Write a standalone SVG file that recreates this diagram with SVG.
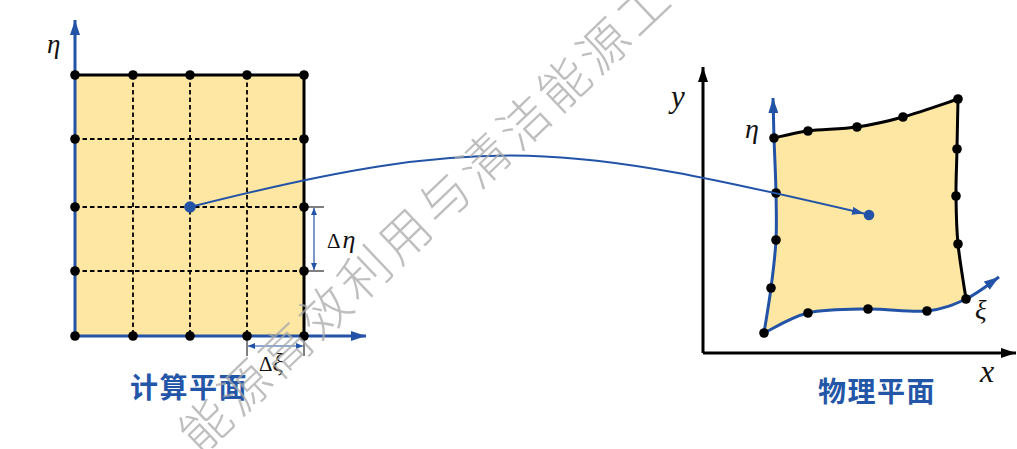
<svg xmlns="http://www.w3.org/2000/svg" width="1017" height="449" viewBox="0 0 1017 449">
<style>
.fill{fill:#FDE7A3;stroke:none}
.bk{stroke:#000;stroke-width:3;fill:none;stroke-linejoin:round}
.bl{stroke:#2253A6;stroke-width:3;fill:none}
.dash{stroke:#000;stroke-width:1.8;stroke-dasharray:4.5 3;fill:none}
.thin{stroke:#000;stroke-width:1;fill:none}
.dim{stroke:#2253A6;stroke-width:1.2;fill:none}
.dot{fill:#000}
.bdot{fill:#2253A6}
.it{font-family:"Liberation Serif",serif;font-style:italic;fill:#111}
.up{font-family:"Liberation Serif",serif;fill:#111}
.title{font-family:"Noto Sans CJK SC",sans-serif;font-weight:bold;font-size:28px;fill:#2456A8;letter-spacing:1.5px}
.wm{font-family:"Noto Sans CJK SC",sans-serif;font-weight:300;font-size:50px;fill:#a8a8a8;fill-opacity:0.75;letter-spacing:5px}
</style>
<defs>
<marker id="ab" markerUnits="userSpaceOnUse" markerWidth="15" markerHeight="10" refX="15" refY="5" orient="auto"><path d="M0,0 L15,5 L0,10 Z" fill="#2253A6"/></marker>
<marker id="ak" markerUnits="userSpaceOnUse" markerWidth="15" markerHeight="10" refX="15" refY="5" orient="auto"><path d="M0,0 L15,5 L0,10 Z" fill="#000"/></marker>
<marker id="ac" markerUnits="userSpaceOnUse" markerWidth="12" markerHeight="8" refX="12" refY="4" orient="auto"><path d="M0,0 L12,4 L0,8 Z" fill="#2253A6"/></marker>
<marker id="ad" markerUnits="userSpaceOnUse" markerWidth="7" markerHeight="6" refX="7" refY="3" orient="auto-start-reverse"><path d="M0,0 L7,3 L0,6 Z" fill="#2253A6"/></marker>
</defs>

<g id="computational-plane">
<rect class="fill" x="75" y="75" width="229" height="261"/>
<path class="dash" d="M75,139 H304 M75,207 H304 M75,271 H304 M133,75 V336 M190,75 V336 M247,75 V336"/>
<path class="bk" d="M75,75 H304 V336"/>
<path class="bl" d="M75,336 V20" marker-end="url(#ab)"/>
<path class="bl" d="M75,336 H366" marker-end="url(#ab)"/>
<g class="dot">
<circle cx="75" cy="75" r="4.8"/><circle cx="133" cy="75" r="4.8"/><circle cx="190" cy="75" r="4.8"/><circle cx="247" cy="75" r="4.8"/><circle cx="304" cy="75" r="4.8"/>
<circle cx="75" cy="139" r="4.8"/><circle cx="75" cy="207" r="4.8"/><circle cx="75" cy="271" r="4.8"/>
<circle cx="304" cy="139" r="4.8"/><circle cx="304" cy="207" r="4.8"/><circle cx="304" cy="271" r="4.8"/>
<circle cx="75" cy="336" r="4.8"/><circle cx="133" cy="336" r="4.8"/><circle cx="190" cy="336" r="4.8"/><circle cx="247" cy="336" r="4.8"/><circle cx="304" cy="336" r="4.8"/>
</g>
<circle class="bdot" cx="190" cy="207" r="5.8"/>
<text class="it" x="47" y="53" font-size="27">η</text>
<path class="thin" d="M304,207 H324 M304,271 H324 M247,336 V356 M304,336 V356"/>
<path class="dim" d="M314,208 V270" marker-start="url(#ad)" marker-end="url(#ad)"/>
<path class="dim" d="M248,346 H303" marker-start="url(#ad)" marker-end="url(#ad)"/>
<text x="327" y="248"><tspan class="up" font-size="21">Δ</tspan><tspan class="it" dx="2" font-size="26">η</tspan></text>
<text x="259" y="371"><tspan class="up" font-size="21">Δ</tspan><tspan class="it" font-size="26">ξ</tspan></text>
<text class="title" x="130" y="398">计算平面</text>
</g>

<g id="physical-plane">
<path class="fill" d="M774,138 C779.7,136.8 794.2,132.8 808,131 C821.8,129.2 841.2,129.3 857,127 C872.8,124.7 886.2,121.7 903,117 C919.8,112.3 948.8,102 958,99 C957.8,107.3 957.3,132.8 957,149 C956.7,165.2 955.8,180.2 956,196 C956.2,211.8 956.3,226.8 958,244 C959.7,261.2 964.7,289.8 966,299 C954.2,304.5 943.3,309.3 927,311 C910.7,312.7 887.8,308.7 868,309 C848.2,309.3 825.3,309 808,313 C790.7,317 771.3,329.7 764,333 C765.2,325.5 769,303.5 771,288 C773,272.5 775.2,255.8 776,240 C776.8,224.2 776.3,210 776,193 C775.7,176 774.5,153.5 774,138 Z"/>
<path class="bk" d="M774,138 C779.7,136.8 794.2,132.8 808,131 C821.8,129.2 841.2,129.3 857,127 C872.8,124.7 886.2,121.7 903,117 C919.8,112.3 948.8,102 958,99 C957.8,107.3 957.3,132.8 957,149 C956.7,165.2 955.8,180.2 956,196 C956.2,211.8 956.3,226.8 958,244 C959.7,261.2 964.7,289.8 966,299"/>
<path class="bl" d="M764,333 C771.3,329.7 790.7,317 808,313 C825.3,309 848.2,309.3 868,309 C887.8,308.7 910.7,312.7 927,311 C943.3,309.3 954.2,304.5 966,299 C977.8,293.5 992.7,281.5 999,277" marker-end="url(#ab)"/>
<path class="bl" d="M764,333 C765.2,325.5 769,303.5 771,288 C773,272.5 775.2,255.8 776,240 C776.8,224.2 776.3,210 776,193 C775.7,176 774.5,153.5 774,138 C773.5,122.5 773.2,106.3 773,98" marker-end="url(#ab)"/>
<path class="bk" d="M703,353 V67" marker-end="url(#ak)"/>
<path class="bk" d="M703,353 H1016" marker-end="url(#ak)"/>
<g class="dot">
<circle cx="774" cy="138" r="4.8"/><circle cx="808" cy="131" r="4.8"/><circle cx="857" cy="127" r="4.8"/><circle cx="903" cy="117" r="4.8"/><circle cx="958" cy="99" r="4.8"/>
<circle cx="957" cy="149" r="4.8"/><circle cx="956" cy="196" r="4.8"/><circle cx="958" cy="244" r="4.8"/><circle cx="966" cy="299" r="4.8"/>
<circle cx="808" cy="313" r="4.8"/><circle cx="868" cy="309" r="4.8"/><circle cx="927" cy="311" r="4.8"/><circle cx="764" cy="333" r="4.8"/>
<circle cx="771" cy="288" r="4.8"/><circle cx="776" cy="240" r="4.8"/><circle cx="776" cy="193" r="4.8"/>
</g>
<circle class="bdot" cx="869" cy="215" r="5.3"/>
<text class="it" x="671" y="107" font-size="31">y</text>
<text class="it" x="980" y="382" font-size="32">x</text>
<text class="it" x="745" y="138" font-size="28">η</text>
<text class="it" x="975" y="319" font-size="27">ξ</text>
<text class="title" x="818" y="402">物理平面</text>
</g>

<g id="connectors">
<path class="bl" style="stroke-width:2" d="M190,207 C490,131 566,144 864,213.5" marker-end="url(#ac)"/>
</g>

<text class="wm" transform="translate(205,425) rotate(-43.6)" x="-25" y="19">能源高效利用与清洁能源工</text>
</svg>
